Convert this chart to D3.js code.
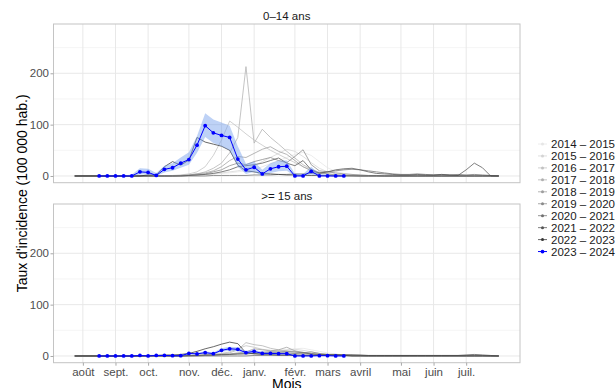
<!DOCTYPE html>
<html><head><meta charset="utf-8">
<script src="https://cdn.jsdelivr.net/npm/d3@7"></script>
<style>body{margin:0;background:#fff} svg text{font-family:"Liberation Sans",Arial,Helvetica,sans-serif}</style>
</head><body>
<svg id="chart" width="616" height="388"></svg>
<script>
// ---------------- DATA ----------------
const seasons = ["2014 – 2015","2015 – 2016","2016 – 2017","2017 – 2018","2018 – 2019","2019 – 2020","2020 – 2021","2021 – 2022","2022 – 2023","2023 – 2024"];
const panelTitles = ["0–14 ans", ">= 15 ans"];
const monthLabels = ["août","sept.","oct.","nov.","déc.","janv.","févr.","mars","avril","mai","juin","juil."];
const monthWeeks = [1,5,9,14,18,22,27,31,35,40,44,48];
const yTicks = [0,100,200];
const yMinor = [50,150,250];
const weeks = d3.range(0, 53);

// 0-14 ans, weeks 0..52
const kids2014 = [0,0,0,0,0,0,0,0,0,0, 0,0,1,1,2,3,3,4,5,6, 8,10,12,18,24,30,36,42,46,40, 28,16,9,5,3,2,1,1,0,0, 0,0,0,0,0,0,0,0,0,0, 0,0,0];
const kids2015 = [0,0,0,0,0,0,0,0,0,0, 0,0,0,1,1,2,3,4,6,8, 10,14,20,28,36,44,52,48,38,26, 15,8,4,2,1,1,0,0,0,0, 0,0,0,0,0,0,0,0,0,0, 0,0,0];
const kids2016 = [0,0,0,0,0,0,0,0,0,0, 0,0,1,2,4,8,18,40,70,107, 95,82,70,60,50,42,34,26,18,12, 7,4,2,1,1,0,0,0,0,0, 0,0,0,0,0,0,0,0,0,0, 0,0,0];
const kids2017 = [0,0,0,0,0,0,0,0,0,0, 0,0,0,1,2,4,8,15,25,45, 75,213,64,91,75,62,48,35,22,13, 7,4,2,1,0,0,0,0,0,0, 0,0,0,0,0,0,0,0,0,0, 0,0,0];
const kids2018 = [0,0,0,0,0,0,0,0,0,0, 0,0,0,1,2,4,6,10,18,30, 38,36,44,52,57,48,42,30,18,10, 6,4,2,1,1,0,0,0,0,0, 0,0,0,0,0,0,0,0,0,0, 0,0,0];
const kids2019 = [0,0,0,0,0,0,0,0,0,0, 0,0,0,0,1,2,4,8,12,20, 25,22,28,32,36,30,26,38,51,22, 10,8,6,4,3,2,1,1,0,0, 0,0,0,0,0,0,0,0,0,0, 0,0,0];
const kids2020 = [0,0,0,0,0,0,0,0,0,0, 0,0,0,0,0,0,0,1,1,1, 1,1,2,2,2,3,3,4,4,5, 6,8,10,12,13,12,10,8,6,4, 3,3,4,3,2,3,2,3,2,3, 2,1,0];
const kids2021 = [0,0,0,0,0,0,0,0,0,0, 0,0,0,0,1,2,3,5,8,12, 18,20,22,25,30,35,25,20,30,12, 5,8,12,14,15,12,8,5,4,3, 2,2,3,2,2,3,2,1,12,25, 16,0,0];
const kids2022 = [0,0,0,0,0,0,0,0,0,2, 2,18,28,21,31,75,66,62,58,50, 21,10,8,5,4,3,2,2,1,1, 1,1,0,0,0,0,0,0,0,0, 0,0,0,0,0,0,0,0,0,0, 0,0,0];

// >= 15 ans, weeks 0..52
const adults2014 = [0,0,0,0,0,0,0,0,0,0, 0,0,0,0,0,1,1,1,2,2, 3,4,5,6,8,10,12,14,15,12, 9,6,4,2,1,1,0,0,0,0, 0,0,0,0,0,0,0,0,0,0, 0,0,0];
const adults2015 = [0,0,0,0,0,0,0,0,0,0, 0,0,0,0,1,1,1,2,2,3, 4,5,6,8,9,10,12,13,11,8, 5,3,2,1,1,0,0,0,0,0, 0,0,0,0,0,0,0,0,0,0, 0,0,0];
const adults2016 = [0,0,0,0,0,0,0,0,0,0, 0,0,0,0,1,1,2,3,5,8, 14,20,17,13,11,10,9,7,5,3, 2,1,1,0,0,0,0,0,0,0, 0,0,0,0,0,0,0,0,0,0, 0,0,0];
const adults2017 = [0,0,0,0,0,0,0,0,0,0, 0,0,0,0,1,1,2,3,4,6, 12,26,22,20,15,12,10,9,7,5, 3,2,1,1,0,0,0,0,0,0, 0,0,0,0,0,0,0,0,0,0, 0,0,0];
const adults2018 = [0,0,0,0,0,0,0,0,0,0, 0,0,0,0,0,1,1,2,3,4, 6,8,14,12,10,12,17,10,7,5, 3,2,1,1,0,0,0,0,0,0, 0,0,0,0,0,0,0,0,0,0, 0,0,0];
const adults2019 = [0,0,0,0,0,0,0,0,0,0, 0,0,0,0,0,0,1,1,2,3, 4,5,6,7,8,8,9,8,6,8, 5,3,2,2,1,1,0,0,0,0, 0,0,0,0,0,0,0,0,0,0, 0,0,0];
const adults2020 = [0,0,0,0,0,0,0,0,0,0, 0,0,0,0,0,0,0,0,0,0, 0,0,1,1,1,1,1,1,2,2, 2,2,2,2,2,1,1,1,1,1, 1,1,1,1,1,1,1,1,1,1, 1,0,0];
const adults2021 = [0,0,0,0,0,0,0,0,0,0, 0,0,0,0,1,1,2,2,3,3, 4,4,5,5,6,6,6,5,6,4, 3,3,3,2,2,2,1,1,1,1, 1,1,1,1,1,1,1,1,2,3, 2,1,0];
const adults2022 = [0,0,0,0,0,0,0,0,0,1, 1,2,2,3,5,9,14,18,23,27, 24,6,4,3,3,2,2,2,1,1, 1,1,1,1,0,0,0,0,0,0, 0,0,0,0,0,0,0,0,0,0, 0,0,0];

// 2023 – 2024 (weeks 3..33)
const currentWeeks = d3.range(3, 34);
const kidsCurrent   = [0,0,0,0,0, 8,7,1,13,16, 25,32,60,98,84, 79,75,33,12,17, 4,14,18,19,0, 0,9,0,0,0, 0];
const kidsLow       = [0,0,0,0,0, 3,3,0,7,10, 16,22,45,76,64, 58,50,18,4,8, 0,6,9,10,0, 0,3,0,0,0, 0];
const kidsHigh      = [1,1,1,1,3, 15,14,6,20,25, 36,46,78,122,110, 104,98,58,24,28, 12,25,30,30,5, 4,18,4,3,2, 1];
const adultsCurrent = [0,0,0,0,0, 1,0,1,1,0.5, 0.5,5,4,6.5,4.5, 11,14,13,6.5,9, 5,5,4.5,4.5,0, 0,0,0.6,0.5,0, 0];
const adultsLow     = [0,0,0,0,0, 0,0,0,0,0, 0,3,2.5,4.5,3, 8,10,9,4,6, 3,3,2.5,2.5,0, 0,0,0,0,0, 0];
const adultsHigh    = [1,1,1,1,1, 2,1,2,2,1.5, 1.5,7,6,9,7, 15,18,17,9,12, 8,7,7,7,1.5, 1,1,1.5,1.5,1, 1];

const kidsSeries = [kids2014,kids2015,kids2016,kids2017,kids2018,kids2019,kids2020,kids2021,kids2022];
const adultsSeries = [adults2014,adults2015,adults2016,adults2017,adults2018,adults2019,adults2020,adults2021,adults2022];

// ---------------- STYLE ----------------
const greyColors = ["#e6e6e6","#d4d4d4","#c2c2c2","#b0b0b0","#9e9e9e","#8a8a8a","#707070","#555555","#363636"];
const blue = "#0000ff";
const ribbonColor = "#6f9ceb";

const svg = d3.select("#chart");
const x = d3.scaleLinear().domain([-2.6, 54.6]).range([53.5, 520]);
const panelH = 158.7;
const panelTops = [24, 204];

const panelData = [
  {title: panelTitles[0], grey: kidsSeries, cur: kidsCurrent, lo: kidsLow, hi: kidsHigh},
  {title: panelTitles[1], grey: adultsSeries, cur: adultsCurrent, lo: adultsLow, hi: adultsHigh}
];

panelData.forEach((p, pi) => {
  const top = panelTops[pi];
  const y = d3.scaleLinear().domain([-13.1, 296]).range([top + panelH, top]);
  const g = svg.append("g");
  // grid
  g.selectAll(".ymin").data(yMinor).join("line")
    .attr("x1", x.range()[0]).attr("x2", x.range()[1])
    .attr("y1", d => y(d)).attr("y2", d => y(d))
    .attr("stroke", "#f0f0f0").attr("stroke-width", 0.7);
  g.selectAll(".ymaj").data(yTicks).join("line")
    .attr("x1", x.range()[0]).attr("x2", x.range()[1])
    .attr("y1", d => y(d)).attr("y2", d => y(d))
    .attr("stroke", "#e8e8e8").attr("stroke-width", 1);
  g.selectAll(".xmaj").data(monthWeeks).join("line")
    .attr("x1", d => x(d)).attr("x2", d => x(d))
    .attr("y1", top).attr("y2", top + panelH)
    .attr("stroke", "#e8e8e8").attr("stroke-width", 1);

  const line = d3.line().x((d) => x(d[0])).y(d => y(d[1]));
  // grey seasons
  p.grey.forEach((vals, si) => {
    g.append("path")
      .datum(weeks.map((w, i) => [w, vals[i]]))
      .attr("d", line).attr("fill", "none")
      .attr("stroke", greyColors[si]).attr("stroke-width", 0.75);
  });
  // ribbon
  const area = d3.area().x(d => x(d[0])).y0(d => y(d[1])).y1(d => y(d[2]));
  g.append("path")
    .datum(currentWeeks.map((w, i) => [w, p.lo[i], p.hi[i]]))
    .attr("d", area).attr("fill", ribbonColor).attr("fill-opacity", 0.45);
  const curPts = currentWeeks.map((w, i) => [w, p.cur[i]]);
  g.append("path").datum(curPts).attr("d", line).attr("fill", "none")
    .attr("stroke", blue).attr("stroke-width", 1);
  g.selectAll(".pt").data(curPts).join("circle")
    .attr("cx", d => x(d[0])).attr("cy", d => y(d[1])).attr("r", 1.9).attr("fill", blue);

  // border
  g.append("rect").attr("x", x.range()[0]).attr("y", top)
    .attr("width", x.range()[1] - x.range()[0]).attr("height", panelH)
    .attr("fill", "none").attr("stroke", "#c4c4c4").attr("stroke-width", 1);

  // y axis
  const ya = g.append("g").attr("transform", `translate(${x.range()[0]},0)`)
    .call(d3.axisLeft(y).tickValues(yTicks).tickSize(3).tickPadding(1.5));
  ya.select(".domain").remove();
  ya.selectAll("line").attr("stroke", "#a8a8a8");
  ya.selectAll("text").attr("fill", "#4d4d4d").style("font-size", "11.5px");

  // strip title
  svg.append("text").attr("x", (x.range()[0] + x.range()[1]) / 2).attr("y", top - 4)
    .attr("text-anchor", "middle").attr("fill", "#1a1a1a").style("font-size", "11.5px")
    .text(p.title);

  if (pi === 1) {
    const xa = g.append("g").attr("transform", `translate(0,${top + panelH})`)
      .call(d3.axisBottom(x).tickValues(monthWeeks).tickFormat((d, i) => monthLabels[i]).tickSize(3).tickPadding(2.5));
    xa.select(".domain").remove();
    xa.selectAll("line").attr("stroke", "#a8a8a8");
    xa.selectAll("text").attr("fill", "#4d4d4d").style("font-size", "11.5px");
  }
});

// axis titles
svg.append("text").attr("x", (x.range()[0] + x.range()[1]) / 2).attr("y", 389)
  .attr("text-anchor", "middle").attr("fill", "#000").style("font-size", "14px").text("Mois");
svg.append("text").attr("transform", `translate(27,${(24 + 362.7) / 2}) rotate(-90)`)
  .attr("text-anchor", "middle").attr("fill", "#000").style("font-size", "14px")
  .text("Taux d'incidence (100 000 hab.)");

// legend
const legendColors = greyColors.concat([blue]);
const lg = svg.append("g");
seasons.forEach((s, i) => {
  const cy = 144 + 11.95 * i;
  lg.append("line").attr("x1", 538).attr("x2", 547).attr("y1", cy).attr("y2", cy)
    .attr("stroke", legendColors[i]).attr("stroke-width", i === 9 ? 1 : 0.75);
  lg.append("circle").attr("cx", 542.5).attr("cy", cy).attr("r", i === 9 ? 1.9 : 1.5)
    .attr("fill", legendColors[i]);
  lg.append("text").attr("x", 551).attr("y", cy + 4).attr("fill", "#1a1a1a")
    .style("font-size", "11.5px").text(s);
});
</script>
</body></html>
